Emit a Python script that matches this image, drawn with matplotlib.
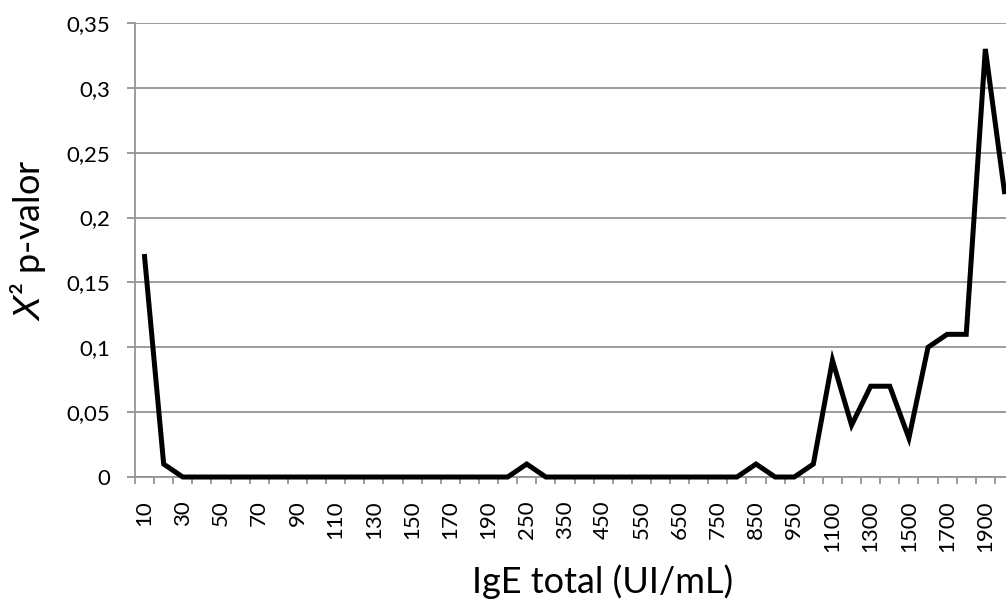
import matplotlib.pyplot as plt
import numpy as np

plt.rcParams['font.family'] = ['Lato', 'DejaVu Sans']

# IgE cut-off categories (UI/mL)
ige_cut = [10, 20, 30, 40, 50, 60, 70, 80, 90, 100,
           110, 120, 130, 140, 150, 160, 170, 180, 190, 200,
           250, 300, 350, 400, 450, 500, 550, 600, 650, 700,
           750, 800, 850, 900, 950, 1000,
           1100, 1200, 1300, 1400, 1500, 1600, 1700, 1800, 1900, 2000]
# chi-square p-values
p_valor = [0.17, 0.01, 0, 0, 0, 0, 0, 0, 0, 0,
           0, 0, 0, 0, 0, 0, 0, 0, 0, 0,
           0.01, 0, 0, 0, 0, 0, 0, 0, 0, 0,
           0, 0, 0.01, 0, 0, 0.01,
           0.09, 0.04, 0.07, 0.07, 0.03, 0.10, 0.11, 0.11, 0.33, 0.22]
y_ticks = [0, 0.05, 0.1, 0.15, 0.2, 0.25, 0.3, 0.35]
y_tick_labels = ['0', '0,05', '0,1', '0,15', '0,2', '0,25', '0,3', '0,35']

grey = '#949494'
n = len(ige_cut)
x = np.arange(n)

fig = plt.figure(figsize=(10.06, 6.01), dpi=100)
ax = fig.add_axes([135/1006, 0.2063, (1014-135)/1006, 0.9617-0.2063])

ax.plot(x, p_valor, color='black', lw=3.6, solid_joinstyle='miter', clip_on=False, zorder=3)

ax.set_xlim(-0.5, n - 0.5)
ax.set_ylim(0, 0.35)

ax.set_yticks(y_ticks)
ax.set_yticklabels(y_tick_labels, fontsize=16)
ax.yaxis.grid(True, color=grey, lw=1.3)
ax.set_axisbelow(True)

# labels at every other category, tick marks on category boundaries
ax.set_xticks(x[::2])
ax.set_xticklabels([str(v) for v in ige_cut[::2]], rotation=90, fontsize=16, va='top')
ax.set_xticks(np.arange(-0.5, n, 1), minor=True)
ax.tick_params(axis='x', which='major', length=0, pad=17)
ax.tick_params(axis='x', which='minor', length=5, width=1.3, color=grey, direction='out')
ax.tick_params(axis='y', length=6, width=1.3, color=grey, pad=12)

for s in ['top', 'right']:
    ax.spines[s].set_visible(False)
for s in ['left', 'bottom']:
    ax.spines[s].set_color(grey)
    ax.spines[s].set_linewidth(1.3)

# axis titles placed like the original chart
fig.text(603/1006, 1 - 593/601, 'IgE total (UI/mL)', fontsize=26, ha='center', va='baseline')
fig.text(28/1006, 1 - 240/601, '$\\mathit{X}$² p-valor', fontsize=26, rotation=90,
         ha='center', va='center')

plt.savefig('out.png', dpi=100)
